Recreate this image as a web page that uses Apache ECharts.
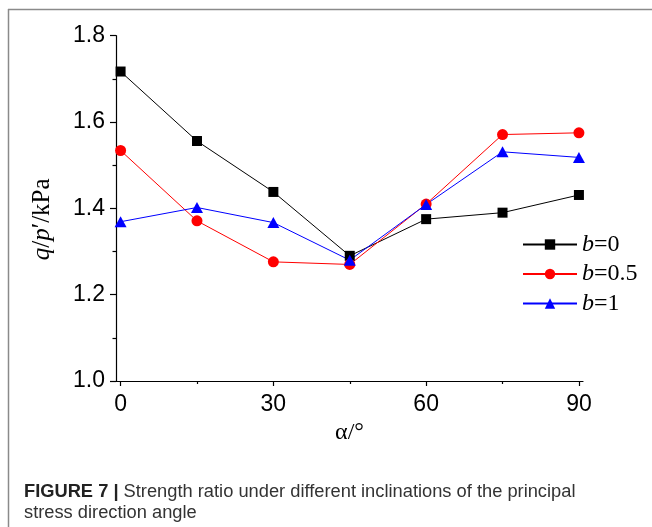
<!DOCTYPE html>
<html>
<head>
<meta charset="utf-8">
<script src="https://cdn.jsdelivr.net/npm/echarts@6/dist/echarts.min.js"></script>
<style>
html,body{margin:0;padding:0;background:#fff;}
#chart{width:652px;height:527px;}
</style>
</head>
<body>
<div id="chart"></div>
<script>
const alpha = [0, 15, 30, 45, 60, 75, 90];
const b0  = [1.717, 1.556, 1.438, 1.290, 1.375, 1.390, 1.431];
const b05 = [1.534, 1.371, 1.276, 1.270, 1.410, 1.571, 1.575];
const b1  = [1.369, 1.402, 1.367, 1.280, 1.409, 1.531, 1.518];
const seriesNames = ['b=0', 'b=0.5', 'b=1'];
const xMajorTicks = [0, 30, 60, 90];
const xMinorTicks = [15, 45, 75];
const captionBold = 'FIGURE 7 |';
const captionText = ' Strength ratio under different inclinations of the principal\nstress direction angle';

const chart = echarts.init(document.getElementById('chart'), null, {renderer: 'canvas'});
const sans = 'Liberation Sans, Arial, sans-serif';
const serif = 'Liberation Serif, Times New Roman, serif';

const mk = (vals) => alpha.map((a, i) => [a, vals[i]]);

const option = {
  animation: false,
  backgroundColor: '#fff',
  title: {
    text: '{b|' + captionBold + '}' + captionText,
    left: 19,
    top: 476,
    textStyle: {
      fontFamily: sans, fontSize: 18.3, fontWeight: 'normal', color: '#333', lineHeight: 21,
      rich: { b: { fontFamily: sans, fontSize: 18.3, fontWeight: 'bold', color: '#222', lineHeight: 21 } }
    }
  },
  grid: { left: 116, right: 69, top: 35.7, bottom: 146, containLabel: false },
  legend: {
    orient: 'vertical',
    left: 522,
    top: 232.5,
    padding: 0,
    itemWidth: 54,
    itemHeight: 13,
    itemGap: 5.5,
    data: seriesNames,
    formatter: (name) => '{i|b}{r|' + name.slice(1) + '}',
    textStyle: {
      fontFamily: serif, fontSize: 24, color: '#000',
      rich: {
        i: { fontFamily: serif, fontSize: 24, fontStyle: 'italic', color: '#000', lineHeight: 24 },
        r: { fontFamily: serif, fontSize: 24, color: '#000', lineHeight: 24 }
      }
    }
  },
  xAxis: [
    {
      type: 'value', min: -0.9, max: 90.8, position: 'bottom',
      axisLine: { show: true, onZero: false, lineStyle: { color: '#000', width: 1.2 } },
      axisTick: { show: true, customValues: xMajorTicks, length: 5, lineStyle: { color: '#000', width: 1.2 } },
      axisLabel: { show: true, customValues: xMajorTicks, fontFamily: sans, fontSize: 23, color: '#000', margin: 12 },
      splitLine: { show: false },
      name: 'α/°', nameLocation: 'middle', nameGap: 40,
      nameTextStyle: { fontFamily: serif, fontSize: 24, color: '#000' }
    },
    {
      type: 'value', min: -0.9, max: 90.8, position: 'bottom',
      axisLine: { show: false, onZero: false },
      axisTick: { show: true, customValues: xMinorTicks, length: 3, lineStyle: { color: '#000', width: 1.2 } },
      axisLabel: { show: false },
      splitLine: { show: false }
    }
  ],
  yAxis: {
    type: 'value', min: 1.0, max: 1.8, interval: 0.2,
    axisLine: { show: true, onZero: false, lineStyle: { color: '#000', width: 1.2 } },
    axisTick: { show: true, length: 6, lineStyle: { color: '#000', width: 1.2 } },
    minorTick: { show: true, splitNumber: 2, length: 3.5, lineStyle: { color: '#000', width: 1.2 } },
    axisLabel: { fontFamily: sans, fontSize: 23, color: '#000', margin: 11, formatter: (v) => v.toFixed(1) },
    splitLine: { show: false },
    minorSplitLine: { show: false },
    name: '{i|q}{r|/}{i|p}{r|′/kPa}', nameLocation: 'middle', nameGap: 61,
    nameTextStyle: {
      fontFamily: serif, fontSize: 25, color: '#000', padding: [0, 22, 0, 0],
      rich: {
        i: { fontFamily: serif, fontSize: 25, fontStyle: 'italic', color: '#000' },
        r: { fontFamily: serif, fontSize: 25, color: '#000' }
      }
    }
  },
  series: [
    { name: seriesNames[0], type: 'line', xAxisIndex: 0, data: mk(b0), symbol: 'rect', symbolSize: 10,
      itemStyle: { color: '#000' }, lineStyle: { color: '#000', width: 1 } },
    { name: seriesNames[1], type: 'line', xAxisIndex: 0, data: mk(b05), symbol: 'circle', symbolSize: 11,
      itemStyle: { color: '#ff0000' }, lineStyle: { color: '#ff0000', width: 1 } },
    { name: seriesNames[2], type: 'line', xAxisIndex: 0, data: mk(b1), symbol: 'triangle', symbolSize: [12, 11],
      itemStyle: { color: '#0000ff' }, lineStyle: { color: '#0000ff', width: 1 } }
  ],
  graphic: [
    { type: 'line', shape: { x1: 8, y1: 9.5, x2: 652, y2: 9.5 }, style: { stroke: '#8a8a8a', lineWidth: 1.5 }, silent: true },
    { type: 'line', shape: { x1: 8.5, y1: 9, x2: 8.5, y2: 527 }, style: { stroke: '#8a8a8a', lineWidth: 1.5 }, silent: true }
  ]
};
chart.setOption(option);
</script>
</body>
</html>
